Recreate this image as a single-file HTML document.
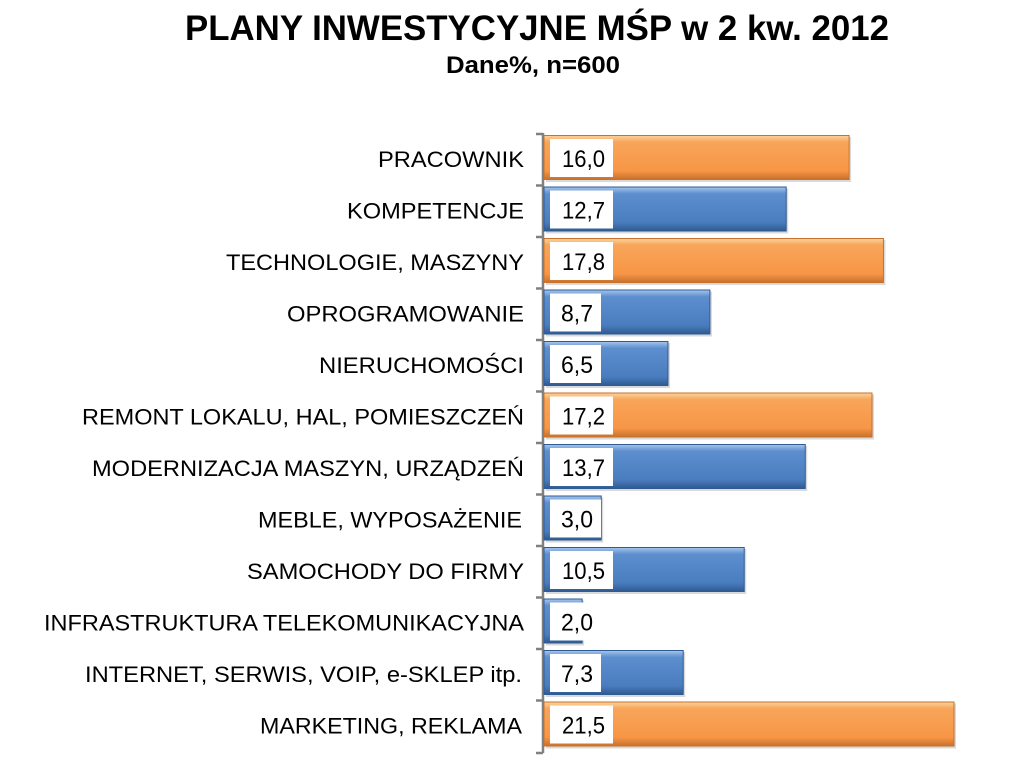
<!DOCTYPE html>
<html><head><meta charset="utf-8"><style>
html,body{margin:0;padding:0;background:#fff;width:1024px;height:768px;overflow:hidden}
svg text{font-family:"Liberation Sans",Arial,sans-serif}
</style></head><body>
<svg width="1024" height="768" viewBox="0 0 1024 768" xmlns="http://www.w3.org/2000/svg">
<defs>
<linearGradient id="og" x1="0" y1="0" x2="0" y2="1">
<stop offset="0" stop-color="#fbd39c"/><stop offset="0.15" stop-color="#f8a55a"/><stop offset="0.8" stop-color="#f79646"/><stop offset="1" stop-color="#c8712c"/>
</linearGradient>
<linearGradient id="bg" x1="0" y1="0" x2="0" y2="1">
<stop offset="0" stop-color="#a7c6ec"/><stop offset="0.15" stop-color="#5d8fcf"/><stop offset="0.8" stop-color="#4a7dbf"/><stop offset="1" stop-color="#2f5a92"/>
</linearGradient>
</defs>
<text x="537" y="40" font-size="35" font-weight="bold" text-anchor="middle" textLength="704" lengthAdjust="spacingAndGlyphs">PLANY INWESTYCYJNE MŚP w 2 kw. 2012</text>
<text x="533" y="73" font-size="24" font-weight="bold" text-anchor="middle" textLength="174" lengthAdjust="spacingAndGlyphs">Dane%, n=600</text>
<g stroke="#808080" stroke-width="2.5">
<line x1="543" y1="133" x2="543" y2="753"/>
</g>
<g id="rows"></g>
</svg>
<script>
var data=[["PRACOWNIK",16.0,"16,0",1,378,524],["KOMPETENCJE",12.7,"12,7",0,347,524],["TECHNOLOGIE, MASZYNY",17.8,"17,8",1,226,524],["OPROGRAMOWANIE",8.7,"8,7",0,287,524],["NIERUCHOMOŚCI",6.5,"6,5",0,319,524],["REMONT LOKALU, HAL, POMIESZCZEŃ",17.2,"17,2",1,82,524],["MODERNIZACJA MASZYN, URZĄDZEŃ",13.7,"13,7",0,92,524],["MEBLE, WYPOSAŻENIE",3.0,"3,0",0,258,522],["SAMOCHODY DO FIRMY",10.5,"10,5",0,247,524],["INFRASTRUKTURA TELEKOMUNIKACYJNA",2.0,"2,0",0,44,524],["INTERNET, SERWIS, VOIP, e-SKLEP itp.",7.3,"7,3",0,85,522],["MARKETING, REKLAMA",21.5,"21,5",1,260,522]];
var s="";
for(var i=0;i<12;i++){var d=data[i];var t=134+51.5*i;var w=d[1]*19.07;
s+='<line x1="536" y1="'+t+'" x2="543" y2="'+t+'" stroke="#808080" stroke-width="2.5"/>';
s+='<rect x="546" y="'+(t+3)+'" width="'+w+'" height="45" fill="#000" opacity="0.15"/>';
s+='<rect x="544" y="'+(t+1.5)+'" width="'+w+'" height="44" fill="url(#'+(d[3]?'og':'bg')+')" stroke="'+(d[3]?'#c8712c':'#2f5a92')+'" stroke-width="1"/>';
var bw=d[2].length>3?63:51;
s+='<rect x="550" y="'+(t+5)+'" width="'+bw+'" height="38" fill="#fff"/>';
s+='<text x="'+(d[2].length>3?562:561)+'" y="'+(t+33)+'" font-size="24" textLength="'+(d[2].length>3?43:32)+'" lengthAdjust="spacingAndGlyphs">'+d[2]+'</text>';
s+='<text x="'+d[4]+'" y="'+(t+33)+'" font-size="22" textLength="'+(d[5]-d[4])+'" lengthAdjust="spacingAndGlyphs">'+d[0]+'</text>';
}
s+='<line x1="536" y1="753" x2="543" y2="753" stroke="#808080" stroke-width="2.5"/>';
document.getElementById("rows").innerHTML=s;
</script>
</body></html>
